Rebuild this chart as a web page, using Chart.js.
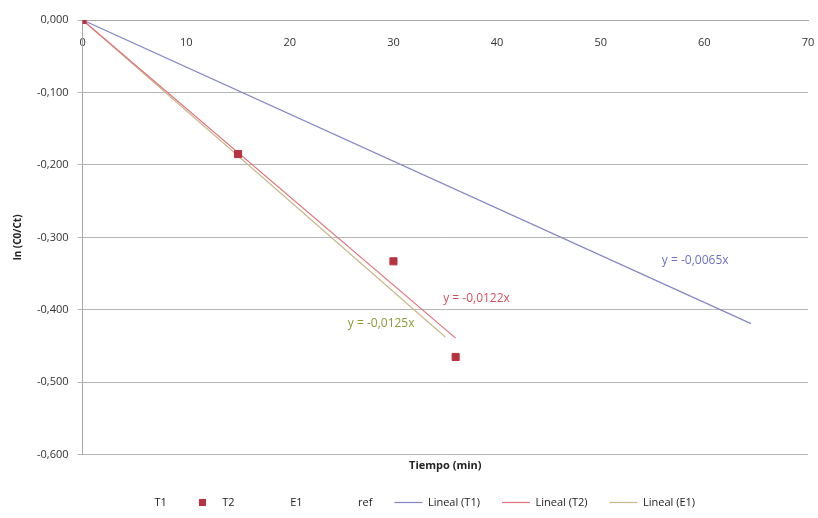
<!DOCTYPE html>
<html>
<head>
<meta charset="utf-8">
<script src="https://cdn.jsdelivr.net/npm/chart.js@4"></script>
<style>
  html, body { margin: 0; padding: 0; background: #fff; }
  #wrap { width: 818px; height: 518px; }
</style>
</head>
<body>
<div id="wrap"><canvas id="myChart" width="818" height="518"></canvas></div>
<script>
// measured points (x = tiempo min, y = ln(C0/Ct))
const t2X = [0, 15, 30, 36];
const t2Y = [0, -0.185, -0.333, -0.465];

// trendline end points
const trendT1X = [0, 64.5];
const trendT1Y = [0, -0.419];
const trendT2X = [0, 36];
const trendT2Y = [0, -0.439];
const trendE1X = [0, 35];
const trendE1Y = [0, -0.4375];

const trendLabels = ['y = -0,0065x', 'y = -0,0122x', 'y = -0,0125x'];
const xTicks = [0, 10, 20, 30, 40, 50, 60, 70];
const yTicks = [0, -0.1, -0.2, -0.3, -0.4, -0.5, -0.6];

function pts(xs, ys) {
    return xs.map((x, i) => ({ x: x, y: ys[i] }));
}

const font = "'Open Sans', 'Liberation Sans', sans-serif";
const blue = '#8485c6';
const red = '#e0707c';
const olive = '#c9b98a';
const markRed = '#b8333f';

// small square used as T2 legend symbol
const sq = document.createElement('canvas');
sq.width = 7; sq.height = 7;
const sqc = sq.getContext('2d');
sqc.fillStyle = markRed;
sqc.fillRect(0, 0, 7, 7);

// equation labels drawn next to trendlines (placed in data units)
const eqLabels = {
    id: 'eqLabels',
    afterDatasetsDraw(chart) {
        const x = chart.scales.x, y = chart.scales.y, ctx = chart.ctx;
        const spots = [[55.9, -0.332, '#6d70c4'], [34.8, -0.3845, '#d8505e'], [25.6, -0.419, '#8e9a3c']];
        ctx.save();
        ctx.font = '12px ' + font;
        ctx.textBaseline = 'middle';
        spots.forEach((s, i) => {
            ctx.fillStyle = s[2];
            ctx.fillText(trendLabels[i], x.getPixelForValue(s[0]), y.getPixelForValue(s[1]));
        });
        ctx.restore();
    }
};

const ctx = document.getElementById('myChart').getContext('2d');

new Chart(ctx, {
    type: 'scatter',
    data: {
        datasets: [
            { label: 'T1', data: [], pointRadius: 0, backgroundColor: 'transparent', borderColor: 'transparent' },
            { label: 'T2', data: pts(t2X, t2Y), pointStyle: 'rect', pointRadius: 5,
              backgroundColor: markRed, borderColor: markRed, order: 0 },
            { label: 'E1', data: [], pointRadius: 0, backgroundColor: 'transparent', borderColor: 'transparent' },
            { label: 'ref', data: [], pointRadius: 0, backgroundColor: 'transparent', borderColor: 'transparent' },
            { label: 'Lineal (T1)', data: pts(trendT1X, trendT1Y), showLine: true, pointRadius: 0,
              borderColor: blue, backgroundColor: blue, borderWidth: 1.2, order: 2 },
            { label: 'Lineal (T2)', data: pts(trendT2X, trendT2Y), showLine: true, pointRadius: 0,
              borderColor: red, backgroundColor: red, borderWidth: 1.2, order: 2 },
            { label: 'Lineal (E1)', data: pts(trendE1X, trendE1Y), showLine: true, pointRadius: 0,
              borderColor: olive, backgroundColor: olive, borderWidth: 1.2, order: 2 }
        ]
    },
    options: {
        responsive: false,
        animation: false,
        layout: { padding: { top: 20, right: 10, left: 8, bottom: 0 } },
        plugins: {
            tooltip: { enabled: false },
            legend: {
                position: 'bottom',
                labels: {
                    font: { family: font, size: 11 },
                    color: '#222',
                    boxWidth: 28,
                    boxHeight: 6,
                    padding: 22,
                    generateLabels(chart) {
                        return chart.data.datasets.map((ds, i) => {
                            const isLine = ds.showLine === true;
                            const isMark = i === 1;
                            return {
                                text: ds.label,
                                datasetIndex: i,
                                fillStyle: isMark ? markRed : 'transparent',
                                strokeStyle: isLine ? ds.borderColor : 'transparent',
                                lineWidth: isLine ? 1.2 : 0,
                                pointStyle: isLine ? 'line' : (isMark ? sq : 'rect'),
                                fontColor: '#222'
                            };
                        });
                    },
                    usePointStyle: true,
                    pointStyleWidth: 28
                }
            }
        },
        scales: {
            x: {
                type: 'linear',
                min: 0,
                max: 70,
                position: { y: 0 },
                afterBuildTicks(axis) { axis.ticks = xTicks.map(v => ({ value: v })); },
                afterFit(axis) { axis.paddingRight = 0; axis.paddingLeft = 0; },
                ticks: { font: { family: font, size: 11 }, color: '#333', padding: 8 },
                grid: { display: false, drawTicks: true },
                border: { color: '#a8a8a8' }
            },
            xb: {
                type: 'linear',
                axis: 'x',
                position: 'bottom',
                min: 0,
                max: 70,
                ticks: { display: false },
                grid: { display: false, drawTicks: false },
                border: { display: false },
                title: { display: true, text: 'Tiempo (min)', font: { family: font, size: 11, weight: 'bold' },
                         color: '#222', padding: { top: 4, bottom: 3 } }
            },
            y: {
                type: 'linear',
                min: -0.6,
                max: 0,
                afterBuildTicks(axis) { axis.ticks = yTicks.map(v => ({ value: v })); },
                ticks: {
                    font: { family: font, size: 11 },
                    color: '#333',
                    padding: 9,
                    callback: v => (Math.abs(v) < 1e-9 ? 0 : v).toFixed(3).replace('.', ',')
                },
                grid: { color: '#b5b5b5', lineWidth: 1, tickLength: 5 },
                border: { color: '#a8a8a8' },
                title: { display: true, text: 'ln (C0/Ct)', font: { family: font, size: 10, weight: 'bold' },
                         color: '#222', padding: { bottom: 4 } }
            }
        }
    },
    plugins: [eqLabels]
});
</script>
</body>
</html>
